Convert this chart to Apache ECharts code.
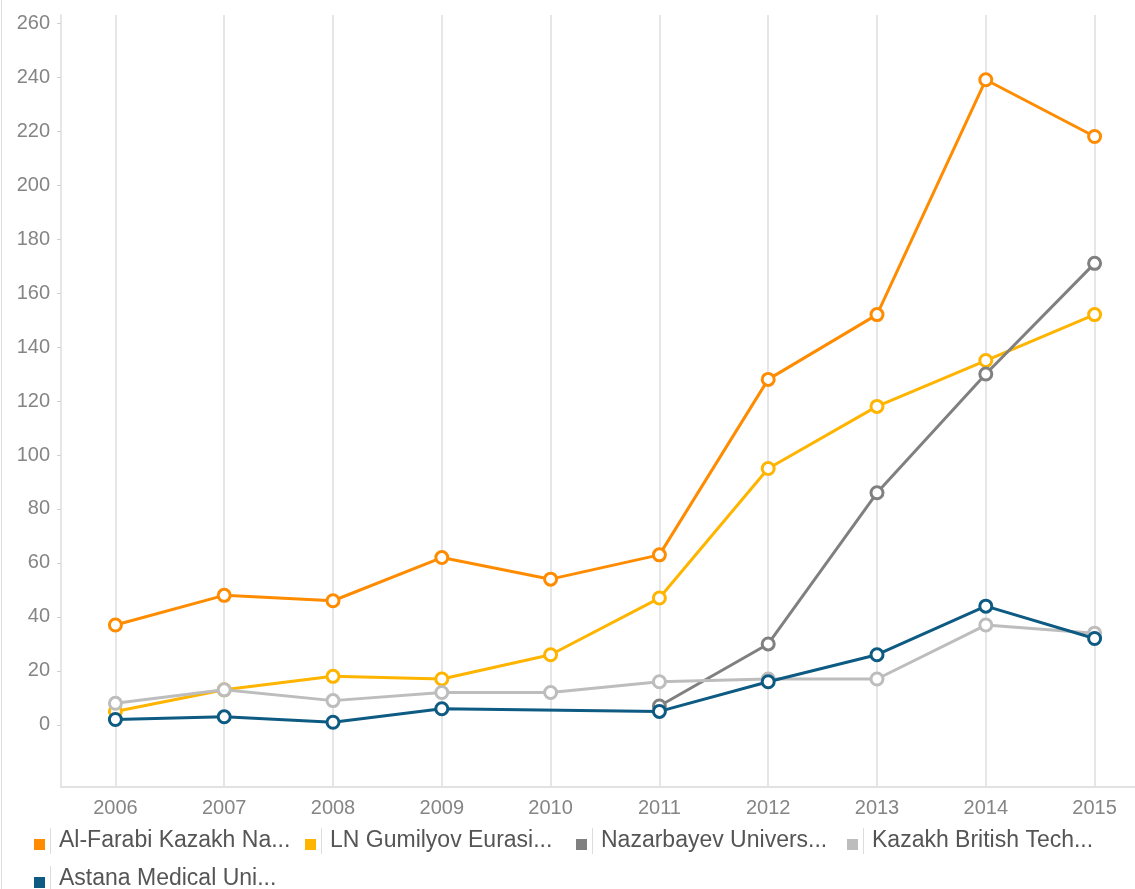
<!DOCTYPE html>
<html>
<head>
<meta charset="utf-8">
<script src="https://cdn.jsdelivr.net/npm/echarts@6/dist/echarts.min.js"></script>
<style>
  html, body { margin: 0; padding: 0; background: #fff; }
  #wrap { position: absolute; left: 0; top: 0; width: 1135px; height: 889px; overflow: hidden; }
  #border { position: absolute; left: 1px; top: 0; width: 1px; height: 889px; background: #dedede; }
  #chart { position: absolute; left: 0; top: 0; width: 1135px; height: 889px; }
</style>
</head>
<body>
<div id="wrap"><div id="chart"></div><div id="border"></div></div>
<script>
// ---- data ----
const years = ['2006', '2007', '2008', '2009', '2010', '2011', '2012', '2013', '2014', '2015'];
const seriesNames = [
  'Al-Farabi Kazakh Na...',
  'LN Gumilyov Eurasi...',
  'Nazarbayev Univers...',
  'Kazakh British Tech...',
  'Astana Medical Uni...'
];
const alFarabi   = [37, 48, 46, 62, 54, 63, 128, 152, 239, 218];
const gumilyov   = [5, 13, 18, 17, 26, 47, 95, 118, 135, 152];
const nazarbayev = [null, null, null, null, null, 7, 30, 86, 130, 171];
const kbtu       = [8, 13, 9, 12, 12, 16, 17, 17, 37, 34];
const astanaMed  = [2, 3, 1, 6, null, 5, 16, 26, 44, 32];
const yTicks = [0, 20, 40, 60, 80, 100, 120, 140, 160, 180, 200, 220, 240, 260];

const colors = ['#ff8c00', '#ffb400', '#808080', '#bdbdbd', '#0d5a82'];
const allData = [alFarabi, gumilyov, nazarbayev, kbtu, astanaMed];

const FONT = 'Liberation Sans, Arial, sans-serif';

const chart = echarts.init(document.getElementById('chart'), null, { renderer: 'canvas' });

const series = allData.map((d, i) => ({
  name: seriesNames[i],
  type: 'line',
  data: d,
  connectNulls: true,
  symbol: 'circle',
  symbolSize: 12,
  showAllSymbol: true,
  color: colors[i],
  lineStyle: { width: 3, color: colors[i] },
  itemStyle: { color: '#ffffff', borderColor: colors[i], borderWidth: 3 },
  emphasis: { disabled: true },
  z: 2 + i
}));

chart.setOption({
  animation: false,
  textStyle: { fontFamily: FONT },
  grid: { left: 61, right: -14, top: 15, bottom: 102, containLabel: false, outerBoundsMode: 'none' },
  xAxis: {
    type: 'category',
    data: years,
    boundaryGap: true,
    axisLine: { show: true, onZero: false, lineStyle: { color: '#e2e2e2', width: 2 } },
    axisTick: { show: false, alignWithLabel: true },
    axisLabel: { color: '#858585', fontSize: 20, margin: 11, fontFamily: FONT, interval: 0 },
    splitLine: { show: true, interval: 0, alignWithLabel: true, lineStyle: { color: '#e6e6e6', width: 2 } }
  },
  yAxis: {
    type: 'value',
    min: -23,
    max: 263,
    splitLine: { show: false },
    axisLine: { show: true, onZero: false, lineStyle: { color: '#e6e6e6', width: 2 } },
    axisTick: { show: true, length: 4, customValues: yTicks, lineStyle: { color: '#d0d0d0', width: 1 } },
    axisLabel: { color: '#858585', fontSize: 20, margin: 11, fontFamily: FONT, customValues: yTicks }
  },
  legend: {
    show: true,
    left: 34,
    right: 0,
    top: 828,
    padding: 0,
    orient: 'horizontal',
    itemGap: 12,
    itemWidth: 11,
    itemHeight: 18,
    icon: 'path://M0,0M0,7L11,7L11,18L0,18Z',
    selectedMode: false,
    data: seriesNames.map((n, i) => ({ name: n, itemStyle: { color: colors[i], borderWidth: 0 } })),
    formatter: function (name) { return '{s| }{t|' + name + '}'; },
    textStyle: {
      fontFamily: FONT,
      rich: {
        s: { width: 1, height: 26, backgroundColor: '#dcdcdc', fontSize: 1 },
        t: { width: 234, fontSize: 23, color: '#555555', padding: [0, 0, 0, 8], fontFamily: FONT, lineHeight: 26 }
      }
    }
  },
  series: series
});
</script>
</body>
</html>
